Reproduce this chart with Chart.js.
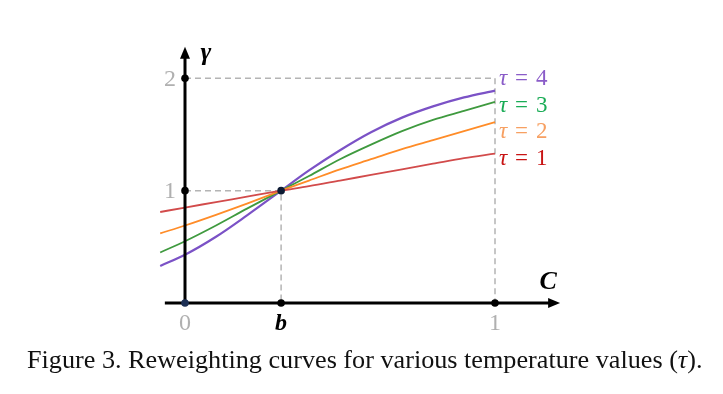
<!DOCTYPE html>
<html>
<head>
<meta charset="utf-8">
<script src="https://cdn.jsdelivr.net/npm/chart.js@4.4.1/dist/chart.umd.min.js"></script>
<style>
  html, body { margin: 0; padding: 0; background: #fff; }
  #wrap { position: relative; width: 723px; height: 394px; }
  #caption {
    position: absolute; left: 27px; top: 345px;
    font-family: "Liberation Serif", serif; font-size: 26.2px; color: #111;
    white-space: nowrap;
  }
</style>
</head>
<body>
<div id="wrap">
  <canvas id="myChart" width="723" height="394"></canvas>
  <div id="caption">Figure 3. Reweighting curves for various temperature values (<i>τ</i>).</div>
</div>
<script>
// C values along the x axis (b is where all curves cross)
const bValue = 0.31;
const cValues = [-0.08, 0, 0.1, 0.2, 0.31, 0.4, 0.5, 0.6, 0.7, 0.8, 0.9, 1.0];

// gamma for each temperature
const tau1 = [0.81, 0.85, 0.898, 0.947, 1.00, 1.04, 1.09, 1.14, 1.19, 1.24, 1.29, 1.33];
const tau2 = [0.62, 0.69, 0.785, 0.885, 1.00, 1.09, 1.19, 1.28, 1.37, 1.45, 1.53, 1.61];
const tau3 = [0.45, 0.55, 0.69, 0.84, 1.00, 1.13, 1.28, 1.41, 1.53, 1.63, 1.71, 1.79];
const tau4 = [0.33, 0.43, 0.59, 0.78, 1.00, 1.18, 1.36, 1.52, 1.65, 1.75, 1.83, 1.89];

const seriesLabels = ['τ = 1', 'τ = 2', 'τ = 3', 'τ = 4'];
const lineColors = ['#d24b4b', '#ff8c28', '#3f9a3f', '#7b52c6'];
const labelColors = ['#c81414', '#f7a062', '#1aac56', '#8a5cc8'];

const xTicks = [0, bValue, 1];
const xTickLabels = ['0', 'b', '1'];
const yTicks = [1, 2];
const yTickLabels = ['1', '2'];

const toPoints = ys => cValues.map((c, i) => ({ x: c, y: ys[i] }));
const allSeries = [tau1, tau2, tau3, tau4];

const axesPlugin = {
  id: 'axesPlugin',
  beforeDatasetsDraw(chart) {
    const { ctx, scales: { x, y } } = chart;
    ctx.save();
    ctx.strokeStyle = '#b4b4b4';
    ctx.lineWidth = 1.5;
    ctx.setLineDash([6, 4]);
    const x0 = x.getPixelForValue(0), xb = x.getPixelForValue(bValue), x1 = x.getPixelForValue(1);
    const y0 = y.getPixelForValue(0), y1 = y.getPixelForValue(1), y2 = y.getPixelForValue(2);
    ctx.beginPath();
    ctx.moveTo(x0, y2); ctx.lineTo(x1, y2); ctx.lineTo(x1, y0);
    ctx.moveTo(x0, y1); ctx.lineTo(xb, y1); ctx.lineTo(xb, y0);
    ctx.stroke();
    ctx.restore();
  },
  afterDatasetsDraw(chart) {
    const { ctx, scales: { x, y } } = chart;
    const x0 = x.getPixelForValue(0);
    const y0 = y.getPixelForValue(0);
    ctx.save();
    ctx.setLineDash([]);
    ctx.strokeStyle = '#000';
    ctx.fillStyle = '#000';
    ctx.lineWidth = 3;
    // x axis + arrow
    const xStart = x.getPixelForValue(-0.065);
    const xTip = x.getPixelForValue(1.21);
    ctx.beginPath(); ctx.moveTo(xStart, y0); ctx.lineTo(xTip - 8, y0); ctx.stroke();
    ctx.beginPath(); ctx.moveTo(xTip, y0); ctx.lineTo(xTip - 12, y0 - 5); ctx.lineTo(xTip - 12, y0 + 5); ctx.closePath(); ctx.fill();
    // y axis + arrow
    const yTip = y.getPixelForValue(2.28);
    ctx.beginPath(); ctx.moveTo(x0, y0 + 1.5); ctx.lineTo(x0, yTip + 8); ctx.stroke();
    ctx.beginPath(); ctx.moveTo(x0, yTip); ctx.lineTo(x0 - 5, yTip + 12); ctx.lineTo(x0 + 5, yTip + 12); ctx.closePath(); ctx.fill();

    // dots
    const dot = (px, py, color) => {
      ctx.fillStyle = color;
      ctx.beginPath(); ctx.arc(px, py, 3.8, 0, Math.PI * 2); ctx.fill();
    };
    yTicks.forEach(v => dot(x0, y.getPixelForValue(v), '#000'));
    dot(x.getPixelForValue(bValue), y.getPixelForValue(1), '#0c1a33');
    dot(x.getPixelForValue(bValue), y0, '#000');
    dot(x.getPixelForValue(1), y0, '#000');
    dot(x0, y0, '#1c2f55');

    // tick labels
    ctx.textAlign = 'center';
    ctx.textBaseline = 'middle';
    yTicks.forEach((v, i) => {
      ctx.fillStyle = '#b0b0b0';
      ctx.font = '24px "Liberation Serif", serif';
      ctx.fillText(yTickLabels[i], x0 - 15, y.getPixelForValue(v) + 1);
    });
    xTicks.forEach((v, i) => {
      if (xTickLabels[i] === 'b') {
        ctx.fillStyle = '#000';
        ctx.font = 'italic bold 24px "Liberation Serif", serif';
      } else {
        ctx.fillStyle = '#b0b0b0';
        ctx.font = '24px "Liberation Serif", serif';
      }
      ctx.fillText(xTickLabels[i], x.getPixelForValue(v), y0 + 21);
    });

    // axis titles
    ctx.fillStyle = '#000';
    ctx.font = 'italic bold 26px "Liberation Serif", serif';
    ctx.fillText('γ', x0 + 21, yTip + 6);
    ctx.fillText('C', xTip - 12, y0 - 21);

    // series labels at the right end
    ctx.textAlign = 'left';
    const labelY = [159, 132, 106, 79];
    seriesLabels.forEach((lab, i) => {
      const lx = x.getPixelForValue(1) + 4;
      ctx.fillStyle = labelColors[i];
      ctx.font = 'italic 23px "Liberation Serif", serif';
      ctx.fillText('τ', lx, labelY[i]);
      ctx.font = '23px "Liberation Serif", serif';
      ctx.fillText('=', lx + 16, labelY[i]);
      ctx.fillText(lab.split('= ')[1], lx + 37, labelY[i]);
    });
    ctx.restore();
  }
};

new Chart(document.getElementById('myChart').getContext('2d'), {
  type: 'line',
  data: {
    datasets: allSeries.map((ys, i) => ({
      label: seriesLabels[i],
      data: toPoints(ys),
      borderColor: lineColors[i],
      borderWidth: i === 3 ? 2.2 : 1.8,
      pointRadius: 0,
      cubicInterpolationMode: 'monotone',
      fill: false
    }))
  },
  options: {
    responsive: false,
    animation: false,
    events: [],
    layout: { padding: { left: 154, right: 150.5, top: 39, bottom: 91 } },
    plugins: { legend: { display: false }, tooltip: { enabled: false } },
    scales: {
      x: { type: 'linear', min: -0.1, max: 1.25, display: false },
      y: { type: 'linear', min: 0, max: 2.35, display: false }
    }
  },
  plugins: [axesPlugin]
});
</script>
</body>
</html>
